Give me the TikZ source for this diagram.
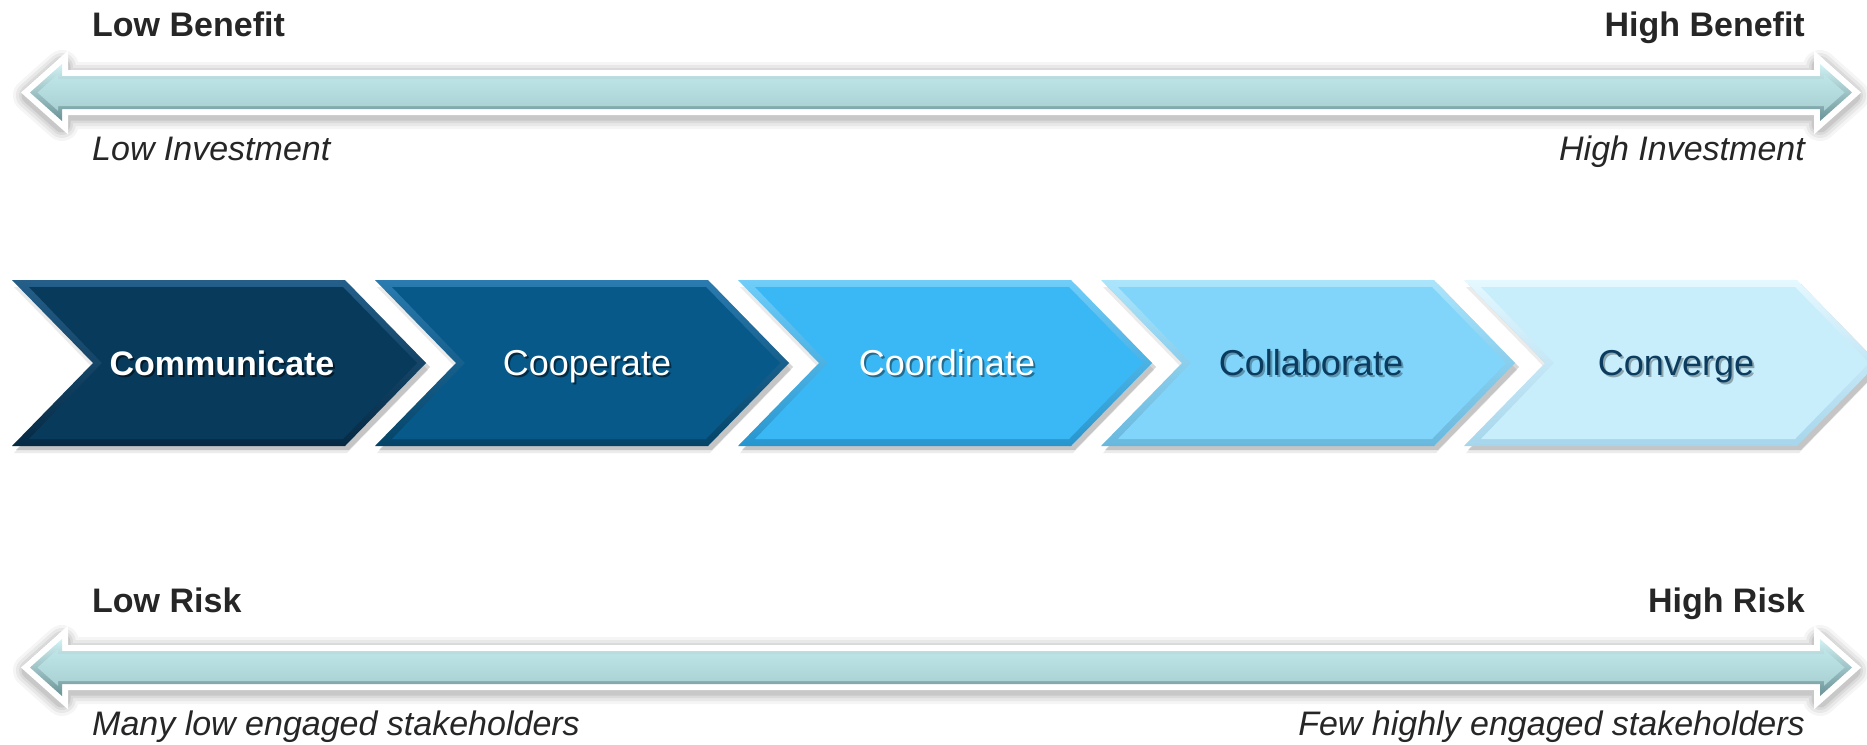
\documentclass[tikz,border=0pt]{standalone}
\usepackage{fontspec}
\setmainfont{Liberation Sans}
\usetikzlibrary{shadows}
\definecolor{lbl}{HTML}{262626}
\definecolor{navy}{HTML}{0B3B5E}
\definecolor{cAm}{HTML}{083A5C}\definecolor{cAl}{HTML}{245F8A}\definecolor{cAd}{HTML}{052A44}
\definecolor{cBm}{HTML}{07598A}\definecolor{cBl}{HTML}{2A7BB0}\definecolor{cBd}{HTML}{054468}
\definecolor{cCm}{HTML}{3AB8F6}\definecolor{cCl}{HTML}{70CDF9}\definecolor{cCd}{HTML}{2796CE}
\definecolor{cDm}{HTML}{82D5FA}\definecolor{cDl}{HTML}{ABE5FC}\definecolor{cDd}{HTML}{68B8DE}
\definecolor{cEm}{HTML}{C8EEFC}\definecolor{cEl}{HTML}{E4F8FF}\definecolor{cEd}{HTML}{A6D6EC}
\definecolor{tealL}{HTML}{D2F2F4}\definecolor{tealD}{HTML}{6A9397}
\definecolor{tealT}{HTML}{BEE5E8}\definecolor{tealB}{HTML}{A9D1D4}
\newcommand\ArrOuter{(30,0) -- (62,-28.5) -- (62,-16.5) -- (1820,-16.5) -- (1820,-28.5) -- (1852,0) -- (1820,28.5) -- (1820,16.5) -- (62,16.5) -- (62,28.5) -- cycle}
\newcommand\ArrInner{(37.5,0) -- (58,-18.3) -- (58,-13.5) -- (1824,-13.5) -- (1824,-18.3) -- (1844.5,0) -- (1824,18.3) -- (1824,13.5) -- (58,13.5) -- (58,18.3) -- cycle}
\newcommand\ChevOuter{(0,280) -- (333,280) -- (414,363) -- (333,446) -- (0,446) -- (81,363) -- cycle}
\newcommand\ChevInner{(17,287) -- (331,287) -- (405,363) -- (331,439) -- (17,439) -- (90,363) -- cycle}
\newcommand\DrawBigArrow[1]{%
  \begin{scope}[shift={(0,#1)}]
    \foreach \w/\o in {34/0.04,28/0.05,22/0.06,17/0.08}{
      \draw[black, opacity=\o, line width=\w, line join=round, fill] [shift={(0,3)}] \ArrOuter;
    }
    \draw[white, line width=12, line join=miter, fill=white] \ArrOuter;
    \shade[top color=tealL, bottom color=tealD] \ArrOuter;
    \shade[top color=tealT, bottom color=tealB] \ArrInner;
  \end{scope}}
\newcommand\DrawChev[4]{%
  \begin{scope}[shift={(#1,0)}]
    \fill[black, opacity=0.16] [shift={(4,4)}] \ChevOuter;
    \fill[black, opacity=0.08] [shift={(2,7)}] \ChevOuter;
    \shade[top color=#3, bottom color=#4] \ChevOuter;
    \fill[#2] \ChevInner;
  \end{scope}}
\tikzset{
  lab/.style={inner sep=0pt, text=lbl, font=\fontsize{34}{40}\selectfont},
  boldlab/.style={lab, font=\fontsize{34}{40}\selectfont\bfseries},
  itlab/.style={lab, font=\fontsize{34}{40}\selectfont\itshape},
  chevtxt/.style={inner sep=0pt, anchor=base, font=\fontsize{36}{42}\selectfont},
  chevbold/.style={chevtxt, font=\fontsize{34}{40}\selectfont\bfseries},
}
\begin{document}
\begin{tikzpicture}[x=1pt, y=-1pt]
\useasboundingbox (0,0) rectangle (1867,744);
\fill[white] (0,0) rectangle (1867,744);
% benefit / investment axis
\DrawBigArrow{92.5}
\node[boldlab, anchor=base west] (lb) at (92,36) {Low Benefit};
\node[boldlab, anchor=base east] (hb) at (1805,36) {High Benefit};
\node[itlab, anchor=base west] (li) at (92,160) {Low Investment};
\node[itlab, anchor=base east] (hi) at (1805,160) {High Investment};
% chevrons
\DrawChev{12}{cAm}{cAl}{cAd}
\DrawChev{375}{cBm}{cBl}{cBd}
\DrawChev{738}{cCm}{cCl}{cCd}
\DrawChev{1101}{cDm}{cDl}{cDd}
\DrawChev{1464}{cEm}{cEl}{cEd}
\node[chevbold, text=black, opacity=0.5] at (224,377) {Communicate};
\node[chevbold, text=white] (s1) at (222,375) {Communicate};
\node[chevtxt, text=black, opacity=0.5] at (589,377) {Cooperate};
\node[chevtxt, text=white] (s2) at (587,375) {Cooperate};
\node[chevtxt, text=black, opacity=0.4] at (949,377) {Coordinate};
\node[chevtxt, text=white] (s3) at (947,375) {Coordinate};
\node[chevtxt, text=black, opacity=0.3] at (1313,377) {Collaborate};
\node[chevtxt, text=navy] (s4) at (1311,375) {Collaborate};
\node[chevtxt, text=black, opacity=0.3] at (1678,377) {Converge};
\node[chevtxt, text=navy] (s5) at (1676,375) {Converge};
% risk / engagement axis
\DrawBigArrow{667.5}
\node[boldlab, anchor=base west] (lr) at (92,612) {Low Risk};
\node[boldlab, anchor=base east] (hr) at (1805,612) {High Risk};
\node[itlab, anchor=base west] (ml) at (92,735) {Many low engaged stakeholders};
\node[itlab, anchor=base east] (fh) at (1805,735) {Few highly engaged stakeholders};
\end{tikzpicture}
\end{document}
